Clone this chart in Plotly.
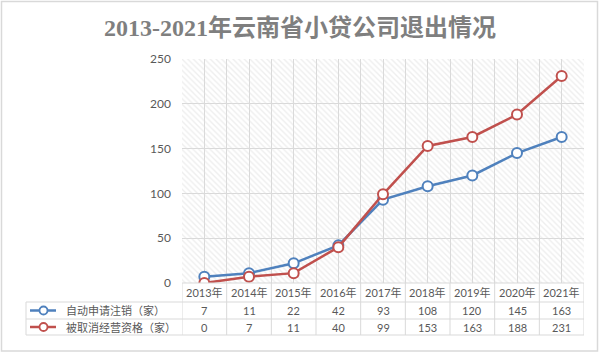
import plotly.graph_objects as go
import numpy as np

years = ["2013年", "2014年", "2015年", "2016年", "2017年", "2018年", "2019年", "2020年", "2021年"]
series_names = ["自动申请注销（家）", "被取消经营资格（家）"]
s1 = [7, 11, 22, 42, 93, 108, 120, 145, 163]
s2 = [0, 7, 11, 40, 99, 153, 163, 188, 231]
y_ticks = [0, 50, 100, 150, 200, 250]

colors = ["#4F81BD", "#C0504D"]
W, H = 600, 354
L, R, T, B = 182, 16, 59, 71
PW, PH = W - L - R, H - T - B
n = len(years)
xi = list(range(n))

def px(x):
    return (x - L) / PW

def py(y):
    return (T + PH - y) / PH

grid = "#d9d9d9"
txt = "#595959"
font_main = "Lato, Noto Sans CJK SC"

fig = go.Figure()
# hatch background
fig.add_trace(go.Scatter(x=[-0.5, n - 0.5], y=[y_ticks[-1], y_ticks[-1]], fill="tozeroy",
                         mode="lines", line=dict(width=0), fillcolor="rgba(0,0,0,0)",
                         fillpattern=dict(shape="\\", fgcolor="#dedede", bgcolor="rgba(0,0,0,0)",
                                          size=4, solidity=0.35),
                         hoverinfo="skip", showlegend=False))
for vals, name, c in zip([s1, s2], series_names, colors):
    fig.add_trace(go.Scatter(x=xi, y=vals, mode="lines+markers", name=name,
                             line=dict(color=c, width=2.5),
                             marker=dict(size=10, color="white", line=dict(color=c, width=2)),
                             showlegend=False))

shapes = []
ann = []
# outer frame
shapes.append(dict(type="rect", xref="paper", yref="paper", x0=px(1.5), x1=px(597.5),
                   y0=py(351), y1=py(1.5), line=dict(color="#d9d9d9", width=1.5), layer="below"))
# table lines
row_y = [283, 302, 319, 335]
shapes.append(dict(type="line", xref="paper", yref="paper", x0=px(182), x1=px(584),
                   y0=py(283), y1=py(283), line=dict(color=grid, width=1)))
for yy in row_y[1:]:
    shapes.append(dict(type="line", xref="paper", yref="paper", x0=px(26), x1=px(584),
                       y0=py(yy), y1=py(yy), line=dict(color=grid, width=1)))
shapes.append(dict(type="line", xref="paper", yref="paper", x0=px(26), x1=px(26),
                   y0=py(302), y1=py(335), line=dict(color=grid, width=1)))
for b in np.arange(-0.5, n, 1.0):
    shapes.append(dict(type="line", xref="x", yref="paper", x0=b, x1=b,
                       y0=py(283), y1=py(335), line=dict(color=grid, width=1)))
# year headers and values
for i, yr in enumerate(years):
    ann.append(dict(x=i, y=py(292.5), xref="x", yref="paper", text=yr, showarrow=False,
                    xanchor="center", yanchor="middle",
                    font=dict(size=11, color=txt, family=font_main)))
    for vals, yc in zip([s1, s2], [310.5, 327]):
        ann.append(dict(x=i, y=py(yc), xref="x", yref="paper", text=str(vals[i]), showarrow=False,
                        xanchor="center", yanchor="middle",
                        font=dict(size=11, color=txt, family=font_main)))
# legend keys in table
for name, c, yc in zip(series_names, colors, [310.5, 327]):
    shapes.append(dict(type="line", xref="paper", yref="paper", x0=px(30), x1=px(56),
                       y0=py(yc), y1=py(yc), line=dict(color=c, width=2.5)))
    shapes.append(dict(type="circle", xref="paper", yref="paper", x0=px(39.5), x1=px(47.5),
                       y0=py(yc + 4), y1=py(yc - 4), line=dict(color=c, width=1.8),
                       fillcolor="white"))
    ann.append(dict(x=px(64), y=py(yc), xref="paper", yref="paper", text=name, showarrow=False,
                    xanchor="left", yanchor="middle",
                    font=dict(size=11, color=txt, family=font_main)))

fig.update_layout(
    width=W, height=H, margin=dict(l=L, r=R, t=T, b=B),
    paper_bgcolor="white", plot_bgcolor="white",
    title=dict(text="<b>2013-2021年云南省小贷公司退出情况</b>", x=0.5, xref="container", xanchor="center",
               y=1 - 28 / H, yref="container", yanchor="middle",
               font=dict(size=24, color="#7f7f7f", family="Liberation Serif, Noto Sans CJK SC")),
    xaxis=dict(range=[-0.5, n - 0.5], showticklabels=False, tickvals=list(np.arange(-0.5, n, 0.5)),
               showgrid=True, gridcolor=grid, gridwidth=1, zeroline=False, showline=False, ticks=""),
    yaxis=dict(range=[0, 250], tickvals=y_ticks, showgrid=True, gridcolor=grid, gridwidth=1,
               zeroline=False, showline=False, ticks="", ticklabelstandoff=10,
               tickfont=dict(size=12, color=txt, family=font_main)),
    shapes=shapes, annotations=ann,
)
fig.write_html("out.html")
